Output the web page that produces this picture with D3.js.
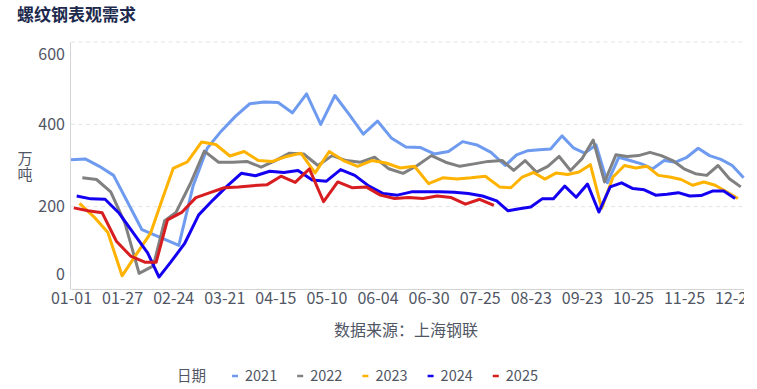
<!DOCTYPE html>
<html>
<head>
<meta charset="utf-8">
<script src="https://cdn.jsdelivr.net/npm/d3@7"></script>
<style>
  html, body { margin: 0; padding: 0; background: #fff; }
  svg { display: block; font-family: "Noto Sans CJK SC", "Noto Sans", sans-serif; }
</style>
</head>
<body>
<div id="chart"></div>
<script>
// weekly series, published on Fridays; null = week not published (spring festival)
const years = ['2021', '2022', '2023', '2024', '2025']
const colors = ['#6e9bf0', '#808080', '#ffb300', '#1400f0', '#d71d1f']
const firstFridays = ['2021-01-01', '2022-01-07', '2023-01-06', '2024-01-05', '2025-01-03']
const tickLabels = ['01-01', '01-27', '02-24', '03-21', '04-15', '05-10', '06-04',
    '06-30', '07-25', '08-23', '09-23', '10-25', '11-25', '12-27']
const yTicks = [0, 200, 400, 600]

const v2021 = [314, 316, 298, 276, 210, 144, null, null, 106, 250,
    342, 384, 420, 450, 454, 453, 428, 474, 400, 470,
    424, 376, 408, 366, 345, 344, 328, 334, 358, 350,
    332, 300, 326, 336, 338, 340, 372, 343, 330, 350,
    258, 320, 312, 304, 292, 312, 308, 320, 342, 324,
    315, 300, 270]
const v2022 = [270, 266, 236, 160, 38, 56, 166, 186, 255, 335,
    308, 308, 310, 296, 312, 330, 328, 300, 324, 312,
    308, 320, 292, 281, 300, 324, 308, 298, 304, 310,
    312, 288, 312, 284, 298, 322, 288, 316, 362, 260,
    326, 322, 324, 332, 324, 312, 292, 280, 276, 300,
    268, 248]
const v2023 = [208, 176, 137, 32, 84, 135, 215, 293, 309, 357,
    351, 323, 334, 312, 310, 322, 330, 282, 334, 312,
    298, 312, 306, 294, 298, 256, 270, 267, 270, 274,
    248, 246, 272, 283, 267, 282, 278, 284, 302, 196,
    272, 300, 294, 298, 276, 272, 266, 252, 260, 252,
    236, 220]
const v2024 = [226, 219, 218, 184, 136, 88, 29, 64, 110, 180,
    216, 250, 281, 275, 286, 283, 288, 265, 262, 290,
    276, 250, 232, 228, 236, 236, 236, 235, 232, 226,
    214, 190, 195, 199, 219, 219, 250, 223, 255, 187,
    248, 258, 244, 241, 228, 230, 234, 226, 227, 238,
    238, 220]
const v2025 = [197, 190, 185, 116, 80, 65, 65, 168, 186, 222,
    234, 246, 248, 251, 253, 274, 259, 292, 212, 260,
    246, 248, 228, 220, 222, 220, 226, 222, 206, 218,
    203]
const values = [v2021, v2022, v2023, v2024, v2025]

const layout = { width: 757, height: 389, left: 71, right: 743.6, top: 42, bottom: 289 }
const textColor = '#505664'

const parse = d3.utcParse('%Y-%m-%d')
const fmt = d3.utcFormat('%m-%d')

const series = years.map((year, i) => {
    const start = parse(firstFridays[i])
    const points = values[i]
        .map((v, k) => ({ date: fmt(d3.utcWeek.offset(start, k)), v }))
        .filter(p => p.v != null)
    return { year, color: colors[i], points }
})

// category axis = union of all weekly dates (MM-DD)
const categories = Array.from(new Set(series.flatMap(s => s.points.map(p => p.date)))).sort()

const x = d3.scalePoint().domain(categories).range([layout.left, layout.right])
const y = d3.scaleLinear().domain([0, 600]).range([layout.bottom, layout.top])

const svg = d3.select('#chart')
    .append('svg')
    .attr('width', layout.width)
    .attr('height', layout.height)
    .attr('viewBox', `0 0 ${layout.width} ${layout.height}`)

svg.append('defs').append('clipPath').attr('id', 'clipX')
    .append('rect').attr('x', 0).attr('y', 0).attr('width', 744).attr('height', layout.height)

// title
svg.append('text')
    .attr('x', 17).attr('y', 21)
    .style('font-size', '17px').style('font-weight', 'bold')
    .attr('fill', '#1d2a4d')
    .text('螺纹钢表观需求')

// grid lines
svg.append('g')
    .selectAll('line')
    .data(yTicks.filter(d => d > 0))
    .enter()
    .append('line')
    .attr('x1', layout.left).attr('x2', layout.right)
    .attr('y1', d => y(d)).attr('y2', d => y(d))
    .attr('stroke', '#e3e3e3')
    .attr('stroke-dasharray', '4,3.5')

// y axis
const yAxis = svg.append('g')
    .attr('transform', `translate(${layout.left - 1},0)`)
    .call(d3.axisLeft(y).tickValues(yTicks).tickSize(0).tickPadding(5))
yAxis.select('.domain').attr('stroke', '#d4d4d4')
yAxis.selectAll('.tick text')
    .style('font-size', '16px')
    .style('font-family', '"Noto Sans CJK SC", "Noto Sans", sans-serif')
    .attr('fill', textColor)
    .attr('dy', d => d === 600 ? '17px' : d === 0 ? '-10px' : '0.32em')

// x axis
const xAxis = svg.append('g')
    .attr('transform', `translate(0,${layout.bottom})`)
    .attr('clip-path', 'url(#clipX)')
    .call(d3.axisBottom(x).tickValues(tickLabels).tickSize(0).tickPadding(4))
xAxis.select('.domain').attr('stroke', '#d4d4d4')
xAxis.selectAll('.tick text')
    .style('font-size', '16px')
    .style('font-family', '"Noto Sans CJK SC", "Noto Sans", sans-serif')
    .attr('fill', textColor)

// y axis unit, written vertically (one text)
svg.append('text')
    .attr('x', 25).attr('y', 151)
    .style('writing-mode', 'vertical-rl')
    .style('text-orientation', 'upright')
    .style('letter-spacing', '1px')
    .style('font-size', '15px')
    .attr('fill', textColor)
    .text('万吨')

// lines
const line = d3.line()
    .x(d => x(d.date))
    .y(d => y(d.v))

svg.append('g')
    .selectAll('path')
    .data(series)
    .enter()
    .append('path')
    .attr('d', d => line(d.points))
    .attr('fill', 'none')
    .attr('stroke', d => d.color)
    .attr('stroke-width', 3)
    .attr('stroke-linejoin', 'round')

// source
svg.append('text')
    .attr('x', 406).attr('y', 336)
    .attr('text-anchor', 'middle')
    .style('font-size', '16px')
    .attr('fill', textColor)
    .text('数据来源：上海钢联')

// legend
const legend = svg.append('g').attr('transform', 'translate(0,376)')
legend.append('text')
    .attr('x', 177).attr('dy', '0.35em')
    .style('font-size', '14.5px')
    .attr('fill', textColor)
    .text('日期')

const item = legend.selectAll('g.item')
    .data(series)
    .enter()
    .append('g')
    .attr('class', 'item')
    .attr('transform', (d, i) => `translate(${232 + i * 65.2},0)`)
item.append('line')
    .attr('x1', 0).attr('x2', 6)
    .attr('stroke', d => d.color)
    .attr('stroke-width', 2.5)
item.append('text')
    .attr('x', 13).attr('dy', '0.35em')
    .style('font-size', '14.5px')
    .attr('fill', textColor)
    .text(d => d.year)
</script>
</body>
</html>
